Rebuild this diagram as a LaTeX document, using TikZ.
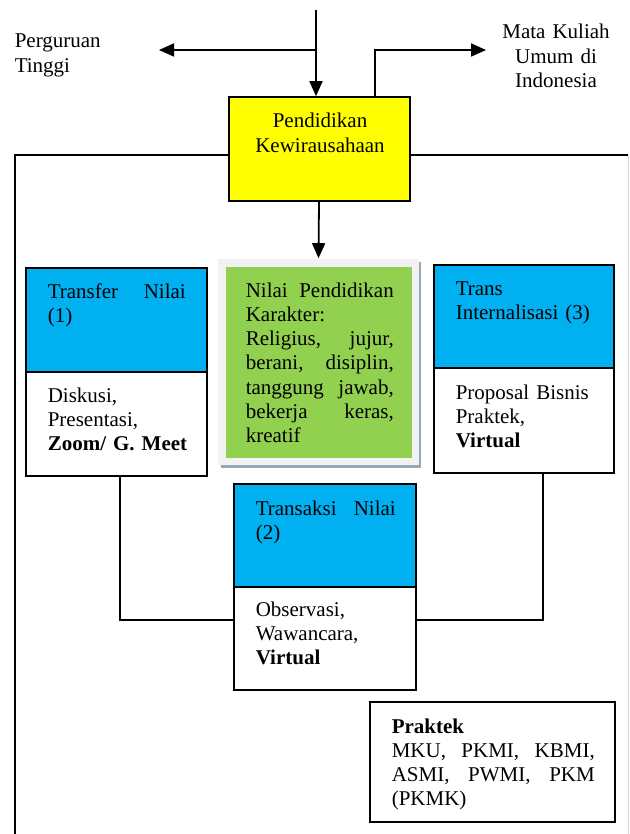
\documentclass[tikz,border=0pt]{standalone}
\usepackage{fontspec}
\setmainfont{Liberation Serif}
\usetikzlibrary{arrows.meta,positioning,calc}
\definecolor{kyellow}{HTML}{FFFF00}
\definecolor{kblue}{HTML}{00B0F0}
\definecolor{kgreen}{HTML}{92D050}
\definecolor{kpale}{HTML}{F2F2F2}
\definecolor{kshadow}{HTML}{93A9BA}
\begin{document}
\begin{tikzpicture}[x=1pt,y=-1pt,
  font=\fontsize{21}{24.3}\selectfont,
  line width=1.6pt,
  arr/.style={line width=1.8pt,-{Triangle[length=15pt,width=13pt]}},
  framebox/.style={draw,rectangle,inner sep=0pt},
  bluebox/.style={framebox,fill=kblue},
  whitebox/.style={framebox,fill=white},
  txt/.style={inner sep=0pt,anchor=base west,align=left}
]
\useasboundingbox (0,0) rectangle (629,834);
% outer frame
\draw[gray!35,line width=0.8pt] (628,155) -- (628,834);
\draw[line width=1.8pt] (15,834) |- (628,155);
% top box
\node[framebox,fill=kyellow,minimum width=181pt,minimum height=104pt] (yel) at (319.5,149) {};
\node[inner sep=0pt,anchor=base,align=center,text width=175pt] (yelt) at (320,128) {Pendidikan\\Kewirausahaan};
% top arrows
\coordinate (top) at (316,10);
\coordinate (junc) at (316,50);
\coordinate (ptend) at (159,50);
\coordinate (mkend) at (486,50);
\draw[arr] (top) -- (top |- yel.north);
\draw[arr] (junc) -- (ptend);
\draw[arr] ([xshift=55.5pt]yel.north) |- (mkend);
\node[txt,text width=100pt] (pt) at (14,48) {Perguruan\\Tinggi};
\node[inner sep=0pt,anchor=base,align=center,text width=130pt] (mk) at (556,39) {Mata Kuliah\\Umum di\\Indonesia};
% green box
\fill[kshadow] (221,262) rectangle (421,468);
\node[rectangle,fill=kpale,inner sep=0pt,minimum width=201pt,minimum height=206pt] (gf) at (318.5,362) {};
\node[rectangle,fill=kgreen,inner sep=0pt,minimum width=186pt,minimum height=191pt] (gr) at (319,362.5) {};
\node[txt,text width=148pt] (grt) at (245,297) {Nilai\hfill Pendidikan\\Karakter:\\Religius,\hfill jujur,\\berani,\hfill disiplin,\\tanggung\hfill jawab,\\bekerja\hfill keras,\\kreatif};
\draw[arr] ([xshift=-0.5pt]yel.south) -- (gf.north);
% transfer nilai
\node[bluebox,minimum width=181pt,minimum height=104pt] (tf) at (116.5,320) {};
\node[whitebox,minimum width=181pt,minimum height=104pt] (tfb) at (116.5,424) {};
\node[txt,text width=138pt] (tft) at (47,298) {Transfer\hfill Nilai\\(1)};
\node[txt,text width=150pt] (tfbt) at (47,402) {Diskusi,\\Presentasi,\\\textbf{Zoom/ G. Meet}};
% trans internalisasi
\node[bluebox,minimum width=180pt,minimum height=103pt] (ti) at (524,316.5) {};
\node[whitebox,minimum width=180pt,minimum height=105pt] (tib) at (524,420.5) {};
\node[txt,text width=150pt] (tit) at (455,295) {Trans\\Internalisasi (3)};
\node[txt,text width=150pt] (tibt) at (455,399) {Proposal Bisnis\\Praktek,\\\textbf{Virtual}};
% transaksi nilai
\node[bluebox,minimum width=182pt,minimum height=103pt] (ts) at (325,535.5) {};
\node[whitebox,minimum width=182pt,minimum height=103pt] (tsb) at (325,638.5) {};
\node[txt,text width=140pt] (tst) at (255,515) {Transaksi\hfill Nilai\\(2)};
\node[txt,text width=150pt] (tsbt) at (255,616) {Observasi,\\Wawancara,\\\textbf{Virtual}};
% connectors
\draw ([xshift=3.5pt]tfb.south) |- ([yshift=18.5pt]tsb.west);
\draw ([yshift=18.5pt]tsb.east) -| ([xshift=19pt]tib.south);
% praktek
\node[whitebox,minimum width=245pt,minimum height=120pt] (pk) at (492.5,762) {};
\node[txt,text width=203pt] (pkt) at (391,733) {\textbf{Praktek}\\MKU,\hfill PKMI,\hfill KBMI,\\ASMI,\hfill PWMI,\hfill PKM\\(PKMK)};
\end{tikzpicture}
\end{document}
